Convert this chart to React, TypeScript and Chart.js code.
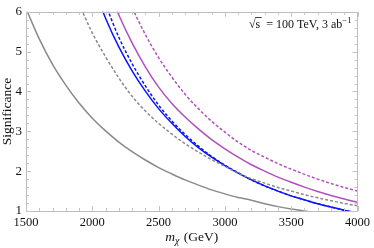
import React, { useEffect, useRef } from "react";
import { Chart, registerables } from "chart.js";

Chart.register(...registerables);

// m_chi (GeV) sample grid
const massGrid = [
  1500, 1600, 1700, 1800, 1900, 2000, 2100, 2200, 2300, 2400, 2500, 2600, 2700,
  2800, 2900, 3000, 3100, 3200, 3300, 3400, 3500, 3600, 3700, 3800, 3900, 4000,
];

// Significance values (null = outside the plotted range)
const graySolid = [
  6.08, 5.32, 4.68, 4.16, 3.71, 3.33, 3.01, 2.73, 2.49, 2.28, 2.09, 1.93, 1.78,
  1.65, 1.53, 1.43, 1.34, 1.27, 1.18, 1.11, 1.05, 1.0, 0.95, 0.9, null, null,
];
const grayDashed = [
  null, null, null, null, 6.2, 5.47, 4.87, 4.34, 3.88, 3.51, 3.2, 2.93, 2.69,
  2.48, 2.29, 2.12, 1.95, 1.81, 1.7, 1.59, 1.5, 1.41, 1.33, 1.26, 1.19, 1.13,
];
const purpleSolid = [
  null, null, null, null, null, null, 6.76, 5.92, 5.22, 4.62, 4.11, 3.7, 3.36,
  3.06, 2.79, 2.56, 2.35, 2.16, 2.0, 1.85, 1.72, 1.6, 1.49, 1.39, 1.3, 1.22,
];
const purpleDashed = [
  null, null, null, null, null, null, null, 6.91, 6.11, 5.43, 4.85, 4.36, 3.93,
  3.57, 3.25, 2.98, 2.73, 2.52, 2.35, 2.19, 2.05, 1.92, 1.8, 1.69, 1.59, 1.5,
];
const blueSolid = [
  null, null, null, null, null, 6.7, 5.84, 5.12, 4.52, 4.01, 3.57, 3.2, 2.87,
  2.59, 2.35, 2.14, 1.95, 1.78, 1.63, 1.5, 1.38, 1.28, 1.18, 1.1, 1.02, 0.95,
];
const blueDashed = [
  null, null, null, null, null, 7.0, 6.18, 5.36, 4.7, 4.14, 3.66, 3.26, 2.92,
  2.63, 2.37, 2.15, 1.96, 1.78, 1.63, 1.5, 1.38, 1.28, 1.18, 1.1, 1.02, 0.95,
];

const xTickValues = [1500, 2000, 2500, 3000, 3500, 4000];
const yTickValues = [1, 2, 3, 4, 5, 6];

const SERIF = "'Liberation Serif', 'DejaVu Serif', serif";
const GRAY = "#8a8a8a";
const BLUE = "#0a14ff";
const PURPLE = "#b24fbe";

function toPoints(values: (number | null)[]) {
  const pts: { x: number; y: number }[] = [];
  values.forEach((v, i) => {
    if (v !== null) pts.push({ x: massGrid[i], y: v });
  });
  return pts;
}

const framePlugin = {
  id: "mmaFrame",
  afterDraw(chart: any) {
    const { ctx, chartArea, scales } = chart;
    const { left, right, top, bottom } = chartArea;
    const x = scales.x;
    const y = scales.y;
    ctx.save();
    // frame
    ctx.strokeStyle = "#bdbdbd";
    ctx.lineWidth = 1;
    ctx.beginPath();
    ctx.rect(Math.round(left) + 0.5, Math.round(top) + 0.5, Math.round(right - left) - 1, Math.round(bottom - top));
    ctx.stroke();
    // ticks (inward)
    ctx.strokeStyle = "#c4c4c4";
    ctx.beginPath();
    for (let m = 1500; m <= 4000; m += 100) {
      const px = Math.round(x.getPixelForValue(m)) + 0.5;
      const major = m % 500 === 0;
      const len = major ? 5 : 3;
      ctx.moveTo(px, bottom);
      ctx.lineTo(px, bottom - len);
      ctx.moveTo(px, top);
      ctx.lineTo(px, top + len);
    }
    for (let k = 0; k <= 25; k++) {
      const s = 1 + k * 0.2;
      const py = Math.round(y.getPixelForValue(s)) + 0.5;
      const major = k % 5 === 0;
      const len = major ? 5 : 3;
      ctx.moveTo(left, py);
      ctx.lineTo(left + len, py);
      ctx.moveTo(right, py);
      ctx.lineTo(right - len, py);
    }
    ctx.stroke();

    // annotation
    ctx.fillStyle = "#111";
    ctx.textBaseline = "alphabetic";
    ctx.textAlign = "left";
    const fs = 12;
    ctx.font = `${fs}px ${SERIF}`;
    let cx = 249;
    const base = 28;
    ctx.fillText("\u221A", cx, base);
    const rw = ctx.measureText("\u221A").width;
    cx += rw;
    const sw = ctx.measureText("s").width;
    ctx.fillText("s", cx, base);
    ctx.beginPath();
    ctx.strokeStyle = "#111";
    ctx.lineWidth = 0.8;
    ctx.moveTo(cx - 0.5, base - 10.5);
    ctx.lineTo(cx + sw + 1.5, base - 10.5);
    ctx.stroke();
    cx += sw + 3;
    const main = " = 100 TeV, 3 ab";
    ctx.fillText(main, cx, base);
    cx += ctx.measureText(main).width;
    ctx.font = `${fs * 0.72}px ${SERIF}`;
    ctx.fillText("\u22121", cx, base - 5);

    // y title
    ctx.font = `13.5px ${SERIF}`;
    ctx.fillStyle = "#111";
    ctx.save();
    ctx.translate(11, (top + bottom) / 2);
    ctx.rotate(-Math.PI / 2);
    ctx.textAlign = "center";
    ctx.textBaseline = "alphabetic";
    ctx.fillText("Significance", 0, 0);
    ctx.restore();

    // x title: m_chi (GeV)
    ctx.textAlign = "left";
    const mid = (left + right) / 2;
    ctx.font = `italic 13.5px ${SERIF}`;
    const mW = ctx.measureText("m").width;
    ctx.font = `italic 10px ${SERIF}`;
    const chiW = ctx.measureText("\u03C7").width;
    ctx.font = `13.5px ${SERIF}`;
    const restW = ctx.measureText(" (GeV)").width;
    const total = mW + chiW + 1 + restW;
    let tx = mid - total / 2;
    const tb = 241;
    ctx.font = `italic 13.5px ${SERIF}`;
    ctx.fillText("m", tx, tb);
    tx += mW;
    ctx.font = `italic 10px ${SERIF}`;
    ctx.fillText("\u03C7", tx, tb + 2.5);
    tx += chiW + 1;
    ctx.font = `13.5px ${SERIF}`;
    ctx.fillText(" (GeV)", tx, tb);
    ctx.restore();
  },
};

export default function App() {
  const canvasRef = useRef<HTMLCanvasElement | null>(null);

  useEffect(() => {
    document.body.style.margin = "0";
    const canvas = canvasRef.current;
    if (!canvas) return;
    const mk = (label: string, values: (number | null)[], color: string, dashed: boolean) => ({
      label,
      data: toPoints(values),
      borderColor: color,
      backgroundColor: color,
      borderWidth: 1.5,
      borderDash: dashed ? [3, 2] : [],
      pointRadius: 0,
      cubicInterpolationMode: "monotone" as const,
      showLine: true,
      fill: false,
      clip: 0,
    });
    const chart = new Chart(canvas, {
      type: "scatter",
      data: {
        datasets: [
          mk("gray solid", graySolid, GRAY, false),
          mk("gray dashed", grayDashed, GRAY, true),
          mk("purple solid", purpleSolid, PURPLE, false),
          mk("purple dashed", purpleDashed, PURPLE, true),
          mk("blue solid", blueSolid, BLUE, false),
          mk("blue dashed", blueDashed, BLUE, true),
        ],
      },
      options: {
        animation: false,
        responsive: false,
        devicePixelRatio: 1,
        layout: { padding: { top: 6, right: 13, left: 0, bottom: 0 } },
        plugins: { legend: { display: false }, tooltip: { enabled: false } },
        scales: {
          x: {
            type: "linear",
            min: 1500,
            max: 4000,
            afterFit: (s: any) => {
              s.height = 37;
            },
            afterBuildTicks: (s: any) => {
              s.ticks = xTickValues.map((v) => ({ value: v }));
            },
            grid: { display: false, drawTicks: false },
            border: { display: false },
            ticks: {
              padding: 4,
              maxRotation: 0,
              autoSkip: false,
              color: "#111",
              font: { family: SERIF, size: 12.5 },
              callback: (v: any) => String(v),
            },
          },
          y: {
            type: "linear",
            min: 1,
            max: 6,
            afterFit: (s: any) => {
              s.width = 26;
            },
            afterBuildTicks: (s: any) => {
              s.ticks = yTickValues.map((v) => ({ value: v }));
            },
            grid: { display: false, drawTicks: false },
            border: { display: false },
            ticks: {
              padding: 4,
              autoSkip: false,
              color: "#111",
              font: { family: SERIF, size: 13 },
              callback: (v: any) => String(v),
            },
          },
        },
      },
      plugins: [framePlugin],
    });
    return () => chart.destroy();
  }, []);

  return (
    <div style={{ width: 374, height: 248 }}>
      <canvas ref={canvasRef} width={374} height={248} style={{ display: "block" }} />
    </div>
  );
}
